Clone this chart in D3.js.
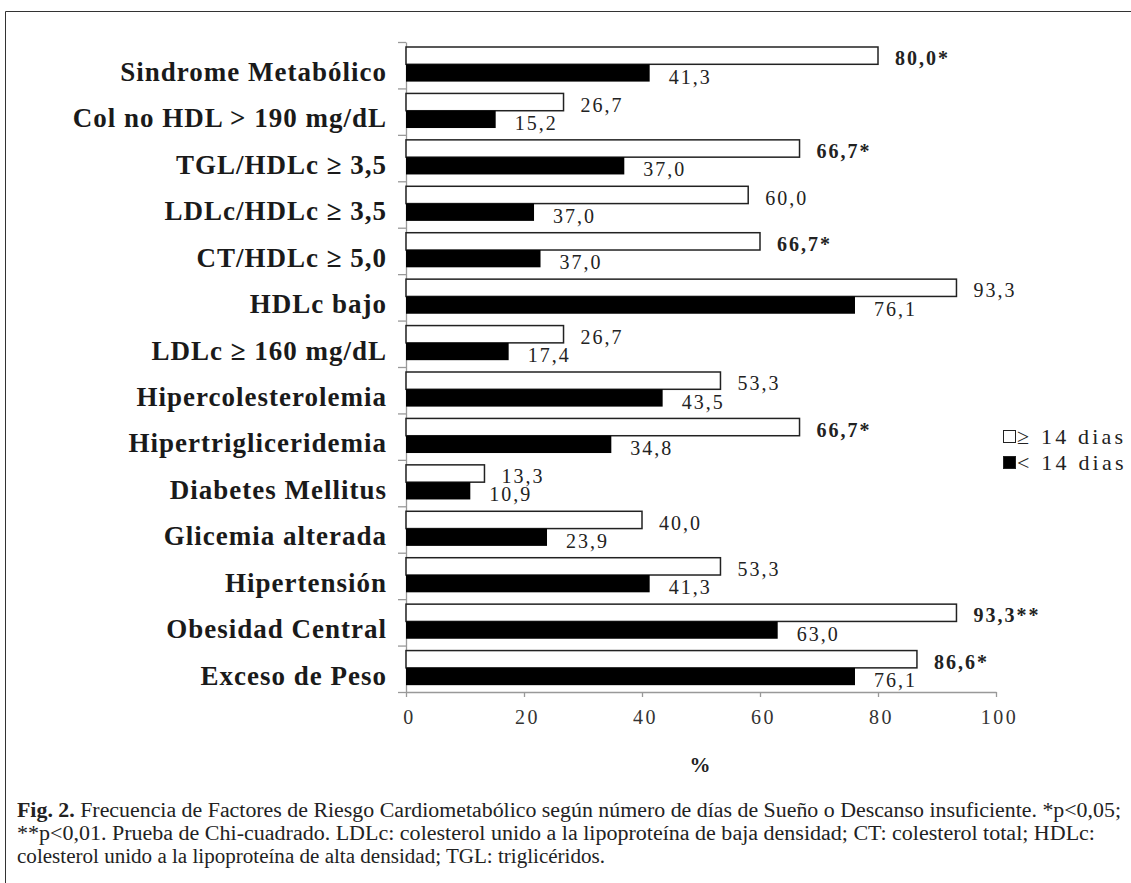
<!DOCTYPE html>
<html>
<head>
<meta charset="utf-8">
<script src="https://cdn.jsdelivr.net/npm/d3@7"></script>
<style>
  body { margin: 0; background: #fff; }
  svg { display: block; font-family: "Liberation Serif", "Times New Roman", serif; }
</style>
</head>
<body>
<div class="chart-container"></div>
<script>
// categorias (de arriba hacia abajo)
const categorias = ["Sindrome Metabólico", "Col no HDL > 190 mg/dL", "TGL/HDLc ≥ 3,5", "LDLc/HDLc ≥ 3,5",
  "CT/HDLc ≥ 5,0", "HDLc bajo", "LDLc ≥ 160 mg/dL", "Hipercolesterolemia", "Hipertrigliceridemia",
  "Diabetes Mellitus", "Glicemia alterada", "Hipertensión", "Obesidad Central", "Exceso de Peso"];

// largo de las barras
const mas14 = [80.0, 26.7, 66.7, 58.0, 60.0, 93.3, 26.7, 53.3, 66.7, 13.3, 40.0, 53.3, 93.3, 86.6];
const menos14 = [41.3, 15.2, 37.0, 21.7, 22.8, 76.1, 17.4, 43.5, 34.8, 10.9, 23.9, 41.3, 63.0, 76.1];

// etiquetas impresas junto a las barras
const etiquetasMas14 = ["80,0*", "26,7", "66,7*", "60,0", "66,7*", "93,3", "26,7", "53,3", "66,7*",
  "13,3", "40,0", "53,3", "93,3**", "86,6*"];
const etiquetasMenos14 = ["41,3", "15,2", "37,0", "37,0", "37,0", "76,1", "17,4", "43,5", "34,8",
  "10,9", "23,9", "41,3", "63,0", "76,1"];

const series = ["≥ 14 dias", "< 14 dias"];
const xTicks = [0, 20, 40, 60, 80, 100];

const caption = [
  "Frecuencia de Factores de Riesgo Cardiometabólico según número de días de Sueño o Descanso insuficiente. *p<0,05;",
  "**p<0,01. Prueba de Chi-cuadrado. LDLc: colesterol unido a la lipoproteína de baja densidad; CT: colesterol total; HDLc:",
  "colesterol unido a la lipoproteína de alta densidad; TGL: triglicéridos."
];

const W = 1131, H = 883;
const svg = d3.select(".chart-container").append("svg")
  .attr("width", W).attr("height", H);

// marco de la figura
svg.append("path")
  .attr("d", `M5.5,${H} V11.5 H${W}`)
  .attr("fill", "none").attr("stroke", "#333").attr("stroke-width", 1);

const x = d3.scaleLinear().domain([0, 100]).range([406, 996]);
const y = d3.scaleBand().domain(categorias).range([42, 692]);
const ySub = d3.scaleBand().domain(series).range([5, 39.6]);

const rows = categorias.map((c, i) => ({
  cat: c, a: mas14[i], b: menos14[i], la: etiquetasMas14[i], lb: etiquetasMenos14[i]
}));

// eje Y con marcas en los limites de cada categoria
const yIdx = d3.scaleLinear().domain([0, categorias.length]).range([42, 692]);
const gy = svg.append("g").attr("transform", `translate(${x(0)},0)`)
  .call(d3.axisLeft(yIdx).tickValues(d3.range(categorias.length + 1)).tickSize(8).tickSizeOuter(0).tickFormat(""));
gy.selectAll("line, path").attr("stroke", "#999").attr("stroke-width", 1.3);

// eje X
const gx = svg.append("g").attr("transform", `translate(0,${y.range()[1]})`)
  .call(d3.axisBottom(x).tickValues(xTicks).tickSize(5).tickSizeOuter(0).tickPadding(13));
gx.selectAll("line, path").attr("stroke", "#999").attr("stroke-width", 1.3);
gx.selectAll("text")
  .attr("font-size", 20).attr("fill", "#333").attr("dx", 3)
  .attr("font-family", "Liberation Serif").style("letter-spacing", "2.5px");

// etiquetas de categorias
svg.append("g").selectAll("text")
  .data(rows).enter().append("text")
  .attr("x", 387)
  .attr("y", d => y(d.cat) + 39)
  .attr("text-anchor", "end")
  .attr("font-size", 27).attr("font-weight", "bold").attr("fill", "#1a1a1a")
  .style("letter-spacing", "1px")
  .text(d => d.cat);

// barras >= 14 dias (blancas)
svg.append("g").selectAll("rect")
  .data(rows).enter().append("rect")
  .attr("x", x(0))
  .attr("y", d => y(d.cat) + ySub(series[0]))
  .attr("width", d => x(d.a) - x(0))
  .attr("height", ySub.bandwidth())
  .attr("fill", "#fff").attr("stroke", "#222").attr("stroke-width", 1.5);

// barras < 14 dias (negras)
svg.append("g").selectAll("rect")
  .data(rows).enter().append("rect")
  .attr("x", x(0))
  .attr("y", d => y(d.cat) + ySub(series[1]))
  .attr("width", d => x(d.b) - x(0))
  .attr("height", ySub.bandwidth())
  .attr("fill", "#000");

// valores
svg.append("g").selectAll("text")
  .data(rows).enter().append("text")
  .attr("x", d => x(d.a) + 17)
  .attr("y", d => y(d.cat) + ySub(series[0]) + ySub.bandwidth() + 1)
  .attr("font-size", 20).attr("fill", "#222")
  .attr("font-weight", d => d.la.includes("*") ? "bold" : "normal")
  .style("letter-spacing", "2px")
  .text(d => d.la);

svg.append("g").selectAll("text")
  .data(rows).enter().append("text")
  .attr("x", d => x(d.b) + 19)
  .attr("y", d => y(d.cat) + ySub(series[1]) + ySub.bandwidth() + 2)
  .attr("font-size", 20).attr("fill", "#222")
  .style("letter-spacing", "2px")
  .text(d => d.lb);

// titulo eje X
svg.append("text")
  .attr("x", 700).attr("y", 772)
  .attr("text-anchor", "middle")
  .attr("font-size", 21).attr("font-weight", "bold").attr("fill", "#222")
  .text("%");

// leyenda
const leg = svg.append("g").attr("transform", "translate(1003,0)");
leg.selectAll("rect")
  .data(series).enter().append("rect")
  .attr("x", 0.5)
  .attr("y", (d, i) => 430.5 + i * 26)
  .attr("width", 12).attr("height", 12)
  .attr("fill", (d, i) => i === 0 ? "#fff" : "#000")
  .attr("stroke", "#222").attr("stroke-width", 1);
leg.selectAll("text")
  .data(series).enter().append("text")
  .attr("x", 14)
  .attr("y", (d, i) => 444 + i * 26)
  .attr("font-size", 22).attr("fill", "#222")
  .style("letter-spacing", "3.2px")
  .text(d => d);

// leyenda de la figura
const cap = svg.append("g").attr("font-size", 20).attr("fill", "#222");
const widths = [1104, 1078, 588];
caption.forEach((line, i) => {
  const t = cap.append("text")
    .attr("x", 17).attr("y", 817 + i * 23)
    .attr("textLength", widths[i]).attr("lengthAdjust", "spacingAndGlyphs");
  if (i === 0) t.append("tspan").attr("font-weight", "bold").text("Fig. 2. ");
  t.append("tspan").text(line);
});
</script>
</body>
</html>
